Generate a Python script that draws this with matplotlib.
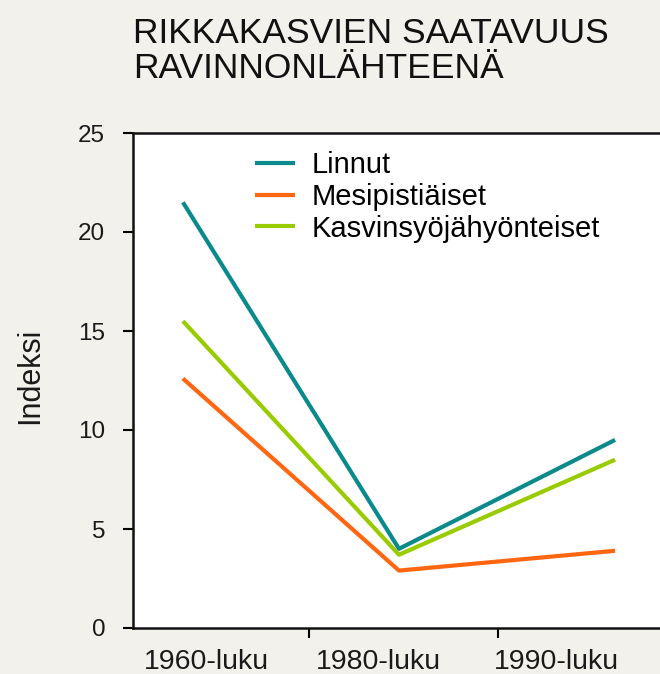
import matplotlib
matplotlib.use("Agg")
import matplotlib.pyplot as plt

plt.rcParams['font.family'] = ['Liberation Sans', 'DejaVu Sans']

# data
categories = ['1960-luku', '1980-luku', '1990-luku']
linnut = [21.5, 4.0, 9.5]
mesipistiaiset = [12.6, 2.9, 3.9]
kasvinsyojat = [15.5, 3.7, 8.5]
yticks = [0, 5, 10, 15, 20, 25]

bg = '#f2f1ec'
fig = plt.figure(figsize=(6.6, 6.74), dpi=100, facecolor=bg)
ax = fig.add_axes([133 / 660, 46 / 674, 527 / 660, 495 / 674])
ax.set_facecolor('white')

x = range(len(categories))
ax.plot(x, linnut, color='#0b8a8c', lw=3, label='Linnut', solid_capstyle='butt')
ax.plot(x, mesipistiaiset, color='#ff6611', lw=3, label='Mesipistiäiset', solid_capstyle='butt')
ax.plot(x, kasvinsyojat, color='#99cc00', lw=3, label='Kasvinsyöjähyönteiset', solid_capstyle='butt')

ax.set_xlim(-0.231, 2.208)
ax.set_ylim(0, 25)

# category labels sit between the tick marks
ax.set_xticks([0.583, 1.458])
ax.set_xticklabels([])
ax.set_xticks([0.111, 0.903, 1.731], minor=True)
ax.set_xticklabels(categories, minor=True, fontsize=20.5, color='#1a1a1a')
ax.tick_params(axis='x', which='major', direction='out', length=7, width=1.5)
ax.tick_params(axis='x', which='minor', length=0, pad=15)

ax.set_yticks(yticks)
ax.tick_params(axis='y', direction='out', length=7, width=1.5, pad=13,
               labelsize=17.5, labelcolor='#1a1a1a')

for s in ['left', 'bottom', 'top']:
    ax.spines[s].set_linewidth(1.8)
    ax.spines[s].set_color('#111111')
ax.spines['right'].set_visible(False)

ax.set_ylabel('Indeksi', fontsize=22, color='#1a1a1a')
ax.yaxis.set_label_coords(-0.167, 0.509)

ax.legend(loc='upper left', bbox_to_anchor=(255 / 660, 1 - 151 / 674),
          bbox_transform=fig.transFigure, frameon=False, fontsize=21,
          handlelength=1.37, handletextpad=0.58, labelspacing=0.13,
          borderpad=0, borderaxespad=0)

fig.text(133 / 660, 1 - 17 / 674, 'RIKKAKASVIEN SAATAVUUS\nRAVINNONLÄHTEENÄ',
         fontsize=25.5, va='top', ha='left', color='#111111', linespacing=1.08)

fig.savefig('out.png', dpi=100, facecolor=bg)
